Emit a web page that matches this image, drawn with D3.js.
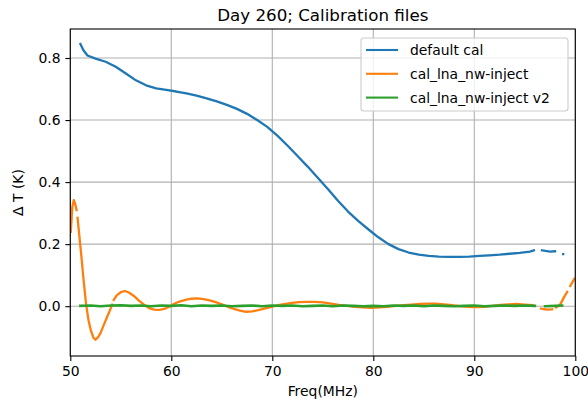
<!DOCTYPE html>
<html><head><meta charset="utf-8">
<script src="https://cdn.jsdelivr.net/npm/d3@7"></script>
<style>body{margin:0;background:#fff}svg{display:block;font-family:"DejaVu Sans",sans-serif}</style>
</head><body><svg id="c" width="588" height="402"></svg>
<script>
const title = "Day 260; Calibration files";
const xLabel = "Freq(MHz)";
const yLabel = "Δ T (K)";
const xTicks = [50, 60, 70, 80, 90, 100];
const yTicks = [0.0, 0.2, 0.4, 0.6, 0.8];
const seriesNames = ["default cal", "cal_lna_nw-inject", "cal_lna_nw-inject v2"];
const colors = ["#1f77b4", "#ff7f0e", "#2ca02c"];

const blueFreq = [51.0,51.3,51.7,52.5,53.5,54.5,55.5,56.5,57.5,58.5,59.5,60.5,61.5,62.5,63.5,64.5,65.5,66.5,67.5,68.5,69.5,70.5,71.5,72.5,73.5,74.5,75.5,76.5,77.5,78.5,79.5,80.5,81.5,82.5,83.5,84.5,85.5,86.5,87.5,88.5,89.5,90.5,91.5,92.5,93.5,94.5,95.5,95.9,96.3,96.7,97.5,98.0,98.5,98.8];
const blueVal = [0.845,0.825,0.808,0.798,0.788,0.772,0.750,0.728,0.712,0.702,0.697,0.692,0.686,0.679,0.670,0.660,0.649,0.636,0.620,0.600,0.578,0.550,0.518,0.484,0.450,0.414,0.378,0.340,0.305,0.275,0.248,0.222,0.200,0.184,0.173,0.166,0.162,0.160,0.159,0.159,0.160,0.162,0.164,0.166,0.169,0.172,0.176,0.180,null,0.180,0.176,0.177,null,0.168];

const orangeFreq = [50.05,50.2,50.35,50.5,50.62,50.64,50.72,50.9,51.1,51.3,51.55,51.8,52.05,52.3,52.5,52.75,53.0,53.3,53.6,53.9,54.15,54.2,54.3,54.6,55.0,55.4,55.8,56.3,56.8,57.3,57.8,58.3,58.8,59.3,59.8,60.3,60.8,61.4,62.0,62.6,63.2,63.8,64.4,65.0,65.6,66.2,66.8,67.4,68.0,68.6,69.2,69.8,70.4,71.0,71.8,72.6,73.4,74.2,75.0,75.8,76.6,77.4,78.2,79.0,79.8,80.6,81.4,82.2,83.0,83.8,84.6,85.4,86.2,87.0,87.8,88.6,89.4,90.2,91.0,91.8,92.6,93.4,94.2,95.0,95.8,96.2,96.6,97.2,97.7,97.9,98.1,98.5,98.9,99.2,99.35,99.5,99.9];
const orangeVal = [0.240,0.320,0.342,0.328,0.310,null,0.285,0.225,0.160,0.090,0.010,-0.045,-0.080,-0.102,-0.108,-0.100,-0.086,-0.062,-0.038,-0.015,0.005,null,0.020,0.035,0.045,0.049,0.044,0.033,0.018,0.005,-0.006,-0.011,-0.012,-0.009,-0.002,0.008,0.015,0.020,0.024,0.025,0.023,0.019,0.013,0.006,-0.002,-0.009,-0.014,-0.018,-0.017,-0.013,-0.008,-0.003,0.002,0.006,0.010,0.013,0.014,0.014,0.012,0.008,0.004,0.001,-0.002,-0.004,-0.005,-0.004,-0.002,0.001,0.003,0.005,0.007,0.008,0.008,0.006,0.003,0.000,-0.002,-0.003,-0.002,0.001,0.004,0.006,0.007,0.005,0.003,null,-0.008,-0.011,-0.010,null,-0.004,0.005,0.030,0.046,null,0.065,0.088];

const greenFreq = [51.0,52.0,53.0,54.0,55.0,56.0,57.0,58.0,59.0,60.0,61.0,62.0,63.0,64.0,65.0,66.0,67.0,68.0,69.0,70.0,71.0,72.0,73.0,74.0,75.0,76.0,77.0,78.0,79.0,80.0,81.0,82.0,83.0,84.0,85.0,86.0,87.0,88.0,89.0,90.0,91.0,92.0,93.0,94.0,95.0,96.0,96.5,97.0,98.0,98.7];
const greenVal = [0.001,0.002,0.000,0.002,0.003,0.001,0.002,0.000,0.002,0.001,0.003,0.000,0.002,0.001,0.002,0.000,0.001,0.002,0.000,0.002,0.001,0.002,0.000,0.001,0.002,0.000,0.002,0.001,0.000,0.001,0.000,0.002,0.001,0.002,0.000,0.002,0.001,0.000,0.001,0.002,0.000,0.001,0.002,0.001,0.002,0.001,null,0.000,0.001,0.002];

const svg = d3.select("#c");
const L = 70.3, R = 575.3, T = 29, B = 356;
const x = d3.scaleLinear().domain([50, 100]).range([L, R]);
const y = d3.scaleLinear().domain([-0.1606, 0.8935]).range([B, T]);

// grid
const g = svg.append("g");
g.selectAll(".gx").data(xTicks).enter().append("line")
  .attr("x1", d => x(d)).attr("x2", d => x(d)).attr("y1", T).attr("y2", B)
  .attr("stroke", "#b0b0b0").attr("stroke-width", 1.1);
g.selectAll(".gy").data(yTicks).enter().append("line")
  .attr("y1", d => y(d)).attr("y2", d => y(d)).attr("x1", L).attr("x2", R)
  .attr("stroke", "#b0b0b0").attr("stroke-width", 1.1);

const clip = svg.append("clipPath").attr("id", "clp").append("rect")
  .attr("x", L).attr("y", T).attr("width", R - L).attr("height", B - T);

const line = d3.line().defined(d => d[1] !== null).x(d => x(d[0])).y(d => y(d[1]));
const series = [
  blueFreq.map((f, i) => [f, blueVal[i]]),
  orangeFreq.map((f, i) => [f, orangeVal[i]]),
  greenFreq.map((f, i) => [f, greenVal[i]])
];
const pg = svg.append("g").attr("clip-path", "url(#clp)");
series.forEach((s, i) => {
  pg.append("path").attr("d", line(s)).attr("fill", "none")
    .attr("stroke", colors[i]).attr("stroke-width", i === 2 ? 2.6 : 2.3)
    .attr("stroke-linejoin", "round").attr("stroke-linecap", "square");
});

// axes
const xa = svg.append("g").attr("transform", `translate(0,${B})`)
  .call(d3.axisBottom(x).tickValues(xTicks).tickFormat(d3.format("d")).tickSize(4.9).tickPadding(4.9));
const ya = svg.append("g").attr("transform", `translate(${L},0)`)
  .call(d3.axisLeft(y).tickValues(yTicks).tickFormat(d3.format(".1f")).tickSize(4.9).tickPadding(4.9));
[xa, ya].forEach(a => {
  a.select(".domain").remove();
  a.selectAll("line").attr("stroke", "#000").attr("stroke-width", 1.1);
  a.selectAll("text").attr("font-size", 13.9).attr("fill", "#000").attr("font-family", "DejaVu Sans");
});
svg.append("rect").attr("x", L).attr("y", T).attr("width", R - L).attr("height", B - T)
  .attr("fill", "none").attr("stroke", "#000").attr("stroke-width", 1.1);

svg.append("text").attr("x", (L + R) / 2).attr("y", 21).attr("text-anchor", "middle")
  .attr("font-size", 16.7).text(title);
svg.append("text").attr("x", (L + R) / 2).attr("y", 396).attr("text-anchor", "middle")
  .attr("font-size", 13.9).text(xLabel);
svg.append("text").attr("transform", `translate(23,${(T + B) / 2}) rotate(-90)`).attr("text-anchor", "middle")
  .attr("font-size", 13.9).text(yLabel);

// legend
const lg = svg.append("g");
lg.append("rect").attr("x", 361).attr("y", 38).attr("width", 207).attr("height", 73).attr("rx", 3)
  .attr("fill", "#fff").attr("fill-opacity", 0.8).attr("stroke", "#cccccc").attr("stroke-width", 1.1);
seriesNames.forEach((n, i) => {
  const yy = 50 + i * 23.8;
  lg.append("line").attr("x1", 366).attr("x2", 398).attr("y1", yy).attr("y2", yy)
    .attr("stroke", colors[i]).attr("stroke-width", 2.1);
  lg.append("text").attr("x", 410).attr("y", yy + 5).attr("font-size", 13.9).text(n);
});
</script></body></html>
